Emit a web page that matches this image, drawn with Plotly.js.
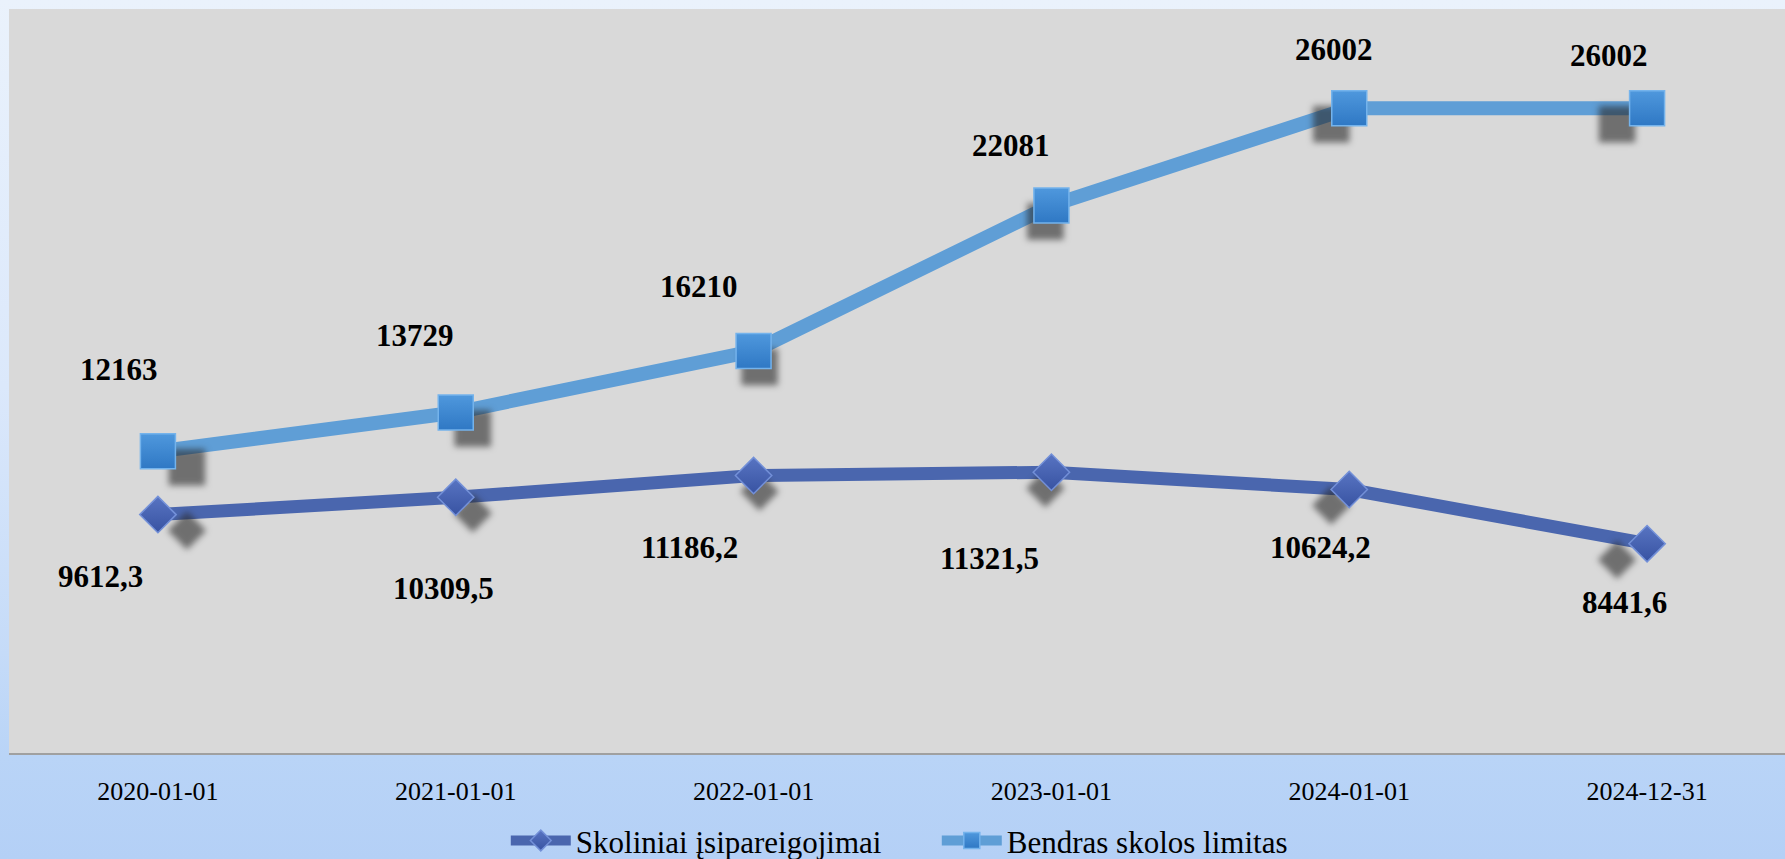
<!DOCTYPE html>
<html><head><meta charset="utf-8">
<script src="https://cdn.plot.ly/plotly-3.0.1.min.js"></script>
<style>
html,body{margin:0;padding:0;width:1785px;height:859px;overflow:hidden;
background:linear-gradient(180deg,#eaf2fc 0%,#dbe8fb 45%,#c5dbf8 76%,#b9d4f7 88%,#b4d0f6 100%);}
#chart{width:1796px;height:859px;}
</style></head><body><div id="chart"></div>
<script>
const categories = ['2020-01-01','2021-01-01','2022-01-01','2023-01-01','2024-01-01','2024-12-31'];
const skoliniai = [9612.3, 10309.5, 11186.2, 11321.5, 10624.2, 8441.6];
const limitas = [12163, 13729, 16210, 22081, 26002, 26002];
const seriesNames = ['Skoliniai įsipareigojimai', 'Bendras skolos limitas'];
// label offsets in pixels (dx, dy; dy positive = down)
const skolLabelOffsets = [[-57,62],[-12,91],[-64,72],[-62,86],[-29,58],[-23,59]];
const limLabelOffsets = [[-39,-82],[-41,-77],[-55,-64],[-40,-60],[-15,-59],[-38,-53]];

const fmt = v => String(v).replace('.', ',');
const serif = 'Liberation Serif';

const data = [
  {
    x: categories, y: skoliniai, name: seriesNames[0], type: 'scatter', mode: 'lines+markers',
    line: {color: '#4a66ae', width: 13},
    marker: {symbol: 'diamond', size: 28, color: '#5874c2',
      gradient: {type: 'vertical', color: '#3853a2'},
      line: {color: '#7390d8', width: 1.5}},
    hoverinfo: 'skip'
  },
  {
    x: categories, y: limitas, name: seriesNames[1], type: 'scatter', mode: 'lines+markers',
    line: {color: '#5f9ed6', width: 14},
    marker: {symbol: 'square', size: 35, color: '#4f98dd',
      gradient: {type: 'vertical', color: '#2f78c4'},
      line: {color: '#74b3ec', width: 1.5}},
    hoverinfo: 'skip'
  }
];

const annotations = [];
skoliniai.forEach((v, i) => annotations.push({
  x: categories[i], y: v, xref: 'x', yref: 'y', text: fmt(v), showarrow: false,
  xshift: skolLabelOffsets[i][0], yshift: -skolLabelOffsets[i][1],
  font: {family: serif, size: 31, color: '#000', weight: 'bold'}
}));
limitas.forEach((v, i) => annotations.push({
  x: categories[i], y: v, xref: 'x', yref: 'y', text: fmt(v), showarrow: false,
  xshift: limLabelOffsets[i][0], yshift: -limLabelOffsets[i][1],
  font: {family: serif, size: 31, color: '#000', weight: 'bold'}
}));

const layout = {
  width: 1796, height: 859,
  margin: {l: 9, r: 0, t: 9, b: 106, autoexpand: false},
  paper_bgcolor: 'rgba(0,0,0,0)',
  plot_bgcolor: '#d9d9d9',
  showlegend: true,
  legend: {orientation: 'h', x: 0.278, xanchor: 'left', y: -0.118, yanchor: 'middle',
    font: {family: serif, size: 31, color: '#000'}, bgcolor: 'rgba(0,0,0,0)',
    itemwidth: 60, entrywidth: 356, entrywidthmode: 'pixels'},
  xaxis: {type: 'category', range: [-0.5, 5.5], showline: true, linecolor: '#a0a0a0', linewidth: 2,
    showgrid: false, zeroline: false, ticks: '', ticklabelstandoff: 14,
    tickfont: {family: serif, size: 26, color: '#000'}, fixedrange: true},
  yaxis: {range: [0, 30000], showgrid: false, zeroline: false, showticklabels: false,
    showline: false, ticks: '', fixedrange: true},
  annotations: annotations
};

Plotly.newPlot('chart', data, layout, {staticPlot: true, displayModeBar: false}).then(gd => {
  const xa = gd._fullLayout.xaxis;
  const cx = xa._length / 2;
  gd.querySelectorAll('.scatterlayer .trace .points path').forEach(p => {
    const m = /translate\(\s*([-\d.]+)[ ,]+([-\d.]+)\)/.exec(p.getAttribute('transform') || '');
    if (!m) return;
    const px = parseFloat(m[1]);
    const dx = ((cx - px) * 0.04).toFixed(1);
    p.style.filter = 'drop-shadow(' + dx + 'px 16px 3px rgba(40,40,40,0.6))';
  });
});
</script></body></html>
